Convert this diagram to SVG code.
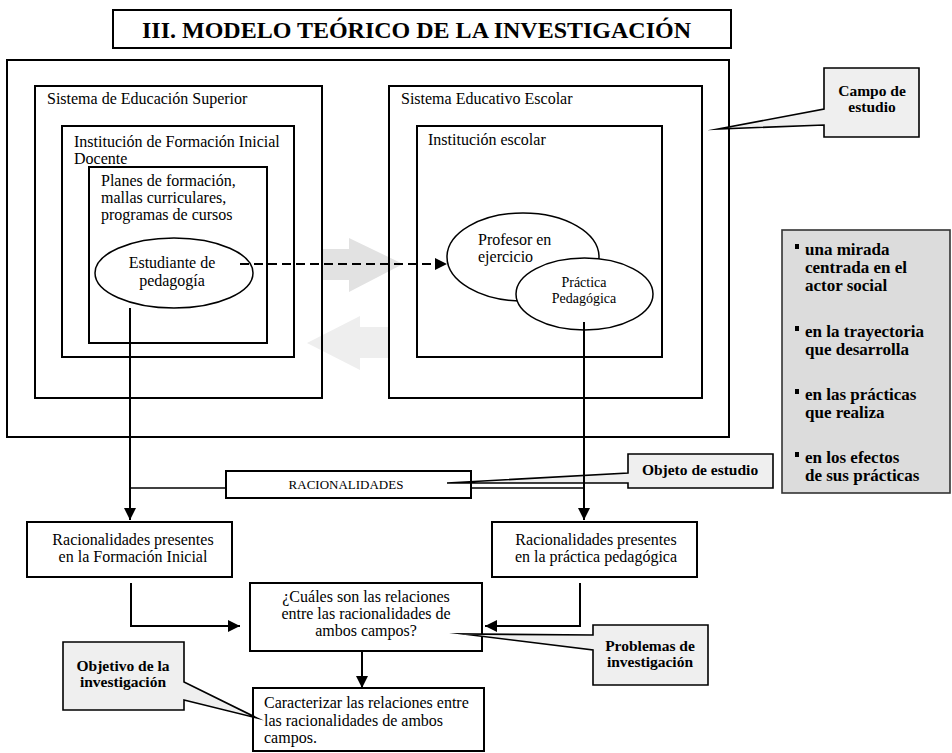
<svg xmlns="http://www.w3.org/2000/svg" width="952" height="753" viewBox="0 0 952 753">
<defs>
<style>
.t{font-family:"Liberation Serif","Times New Roman",serif;font-size:16px;fill:#000}
.b{font-weight:bold}
.s24{font-size:24px}
.s18{font-size:17px}
.s155{font-size:15.5px}
.s14{font-size:14px}
.s13{font-size:13px}
.box{fill:none;stroke:#000;stroke-width:2}
.ell{fill:#fff;stroke:#000;stroke-width:1.5}
.ln{fill:none;stroke:#000;stroke-width:2}
.thin{stroke-width:1.5}
.dash{stroke-dasharray:9,5}
.call{fill:#efefef;stroke:#000;stroke-width:1.6;stroke-linejoin:miter;stroke-miterlimit:20}
.c{text-anchor:middle}
</style>
<marker id="ah" markerUnits="userSpaceOnUse" markerWidth="12" markerHeight="12" refX="12" refY="6" orient="auto">
<path d="M0,0 L12,6 L0,12 Z" fill="#000"/>
</marker>
</defs>
<rect x="0" y="0" width="952" height="753" fill="#fff"/>

<g id="gray-arrows">
<polygon points="321,249 349,249 349,238 403,264 349,292 349,280 321,280" fill="#e2e2e2"/>
<polygon points="388,327 360,327 360,316 307,343 360,370 360,358 388,358" fill="#eeeeee"/>
</g>

<g id="title">
<rect x="113" y="10" width="618" height="38" class="box"/>
<text x="142" y="38" class="t b s24">III. MODELO TEÓRICO DE LA INVESTIGACIÓN</text>
</g>

<g id="campo-outer"><rect x="7" y="60" width="722" height="377" class="box"/></g>

<g id="sistema-educacion-superior">
<rect x="35" y="86" width="287" height="312" class="box"/>
<text x="47" y="104" class="t">Sistema de Educación Superior</text>
</g>
<g id="institucion-fid">
<rect x="62" y="126" width="232" height="231" class="box"/>
<text x="74" y="147" class="t">Institución de Formación Inicial</text>
<text x="74" y="164" class="t">Docente</text>
</g>
<g id="planes">
<rect x="89" y="167" width="178" height="176" class="box"/>
<text x="101" y="186" class="t">Planes de formación,</text>
<text x="101" y="203" class="t">mallas curriculares,</text>
<text x="101" y="220" class="t">programas de cursos</text>
</g>
<g id="estudiante">
<ellipse cx="174" cy="273" rx="79" ry="35" class="ell"/>
<text x="172" y="268" class="t c">Estudiante de</text>
<text x="172" y="286" class="t c">pedagogía</text>
</g>

<g id="sistema-educativo-escolar">
<rect x="389" y="86" width="313" height="312" class="box"/>
<text x="401" y="104" class="t">Sistema Educativo Escolar</text>
</g>
<g id="institucion-escolar">
<rect x="417" y="126" width="245" height="231" class="box"/>
<text x="428" y="145" class="t">Institución escolar</text>
</g>
<g id="profesor">
<ellipse cx="523" cy="257" rx="76" ry="44" class="ell"/>
<text x="478" y="245" class="t">Profesor en</text>
<text x="478" y="262" class="t">ejercicio</text>
</g>
<g id="practica">
<ellipse cx="584.5" cy="294" rx="68.5" ry="36" class="ell"/>
<text x="584" y="287" class="t c s14">Práctica</text>
<text x="584" y="303" class="t c s14">Pedagógica</text>
</g>

<g id="campo-de-estudio">
<path d="M824,68 H919 V137 H824 V125 L718,129 L824,109 Z" class="call"/>
<text x="872" y="96" class="t b c s155">Campo de</text>
<text x="872" y="112" class="t b c s155">estudio</text>
</g>

<g id="mirada">
<rect x="782" y="230" width="168" height="263" fill="#dcdcdc" stroke="#333" stroke-width="1.6"/>
<g fill="#000">
<rect x="795" y="244" width="4" height="5"/>
<rect x="795" y="326" width="4" height="5"/>
<rect x="795" y="389" width="4" height="5"/>
<rect x="795" y="452" width="4" height="5"/>
</g>
<text x="805" y="255" class="t b s18">una mirada</text>
<text x="805" y="273" class="t b s18">centrada en el</text>
<text x="805" y="291" class="t b s18">actor social</text>
<text x="805" y="337" class="t b s18">en la trayectoria</text>
<text x="805" y="355" class="t b s18">que desarrolla</text>
<text x="805" y="400" class="t b s18">en las prácticas</text>
<text x="805" y="418" class="t b s18">que realiza</text>
<text x="805" y="463" class="t b s18">en los efectos</text>
<text x="805" y="481" class="t b s18">de sus prácticas</text>
</g>

<g id="objeto-de-estudio">
<path d="M628,454 H773 V488 H628 V483 L447,483 L628,473 Z" class="call"/>
<text x="700" y="475" class="t b c s155">Objeto de estudio</text>
</g>

<g id="racionalidades">
<rect x="226" y="471" width="245" height="27" class="box"/>
<text x="346" y="489" class="t c s13">RACIONALIDADES</text>
</g>

<g id="racionalidades-fi">
<rect x="27" y="522" width="205" height="55" class="box"/>
<text x="133" y="545" class="t c">Racionalidades presentes</text>
<text x="133" y="562" class="t c">en la Formación Inicial</text>
</g>
<g id="racionalidades-pp">
<rect x="492" y="522" width="205" height="55" class="box"/>
<text x="596" y="545" class="t c">Racionalidades presentes</text>
<text x="596" y="562" class="t c">en la práctica pedagógica</text>
</g>

<g id="pregunta">
<rect x="250" y="583" width="232" height="68" class="box"/>
<text x="366" y="602" class="t c">¿Cuáles son las relaciones</text>
<text x="366" y="619" class="t c">entre las racionalidades de</text>
<text x="366" y="636" class="t c">ambos campos?</text>
</g>

<g id="problemas">
<path d="M593,625 H708 V685 H593 V650 L463,634 L593,635 Z" class="call"/>
<text x="650" y="651" class="t b c s155">Problemas de</text>
<text x="650" y="667" class="t b c s155">investigación</text>
</g>

<g id="caracterizar">
<rect x="253" y="688" width="231" height="63" class="box"/>
<text x="264" y="708" class="t">Caracterizar las relaciones entre</text>
<text x="264" y="726" class="t">las racionalidades de ambos</text>
<text x="264" y="743" class="t">campos.</text>
</g>

<g id="objetivo">
<path d="M63,642 H184 V682 L257,718 L184,700 V710 H63 Z" class="call"/>
<text x="123" y="671" class="t b c s155">Objetivo de la</text>
<text x="123" y="687" class="t b c s155">investigación</text>
</g>

<g id="connectors">
<path d="M130,308 V520" class="ln" marker-end="url(#ah)"/>
<path d="M584,322 V520" class="ln" marker-end="url(#ah)"/>
<path d="M130,488 H226" class="ln thin"/>
<path d="M471,488 H584" class="ln thin"/>
<path d="M240,264 H447" class="ln dash" marker-end="url(#ah)"/>
<path d="M131,583 V626 H240" class="ln" marker-end="url(#ah)"/>
<path d="M580,583 V626 H485" class="ln" marker-end="url(#ah)"/>
<path d="M362,651 V688" class="ln" marker-end="url(#ah)"/>
</g>
</svg>
